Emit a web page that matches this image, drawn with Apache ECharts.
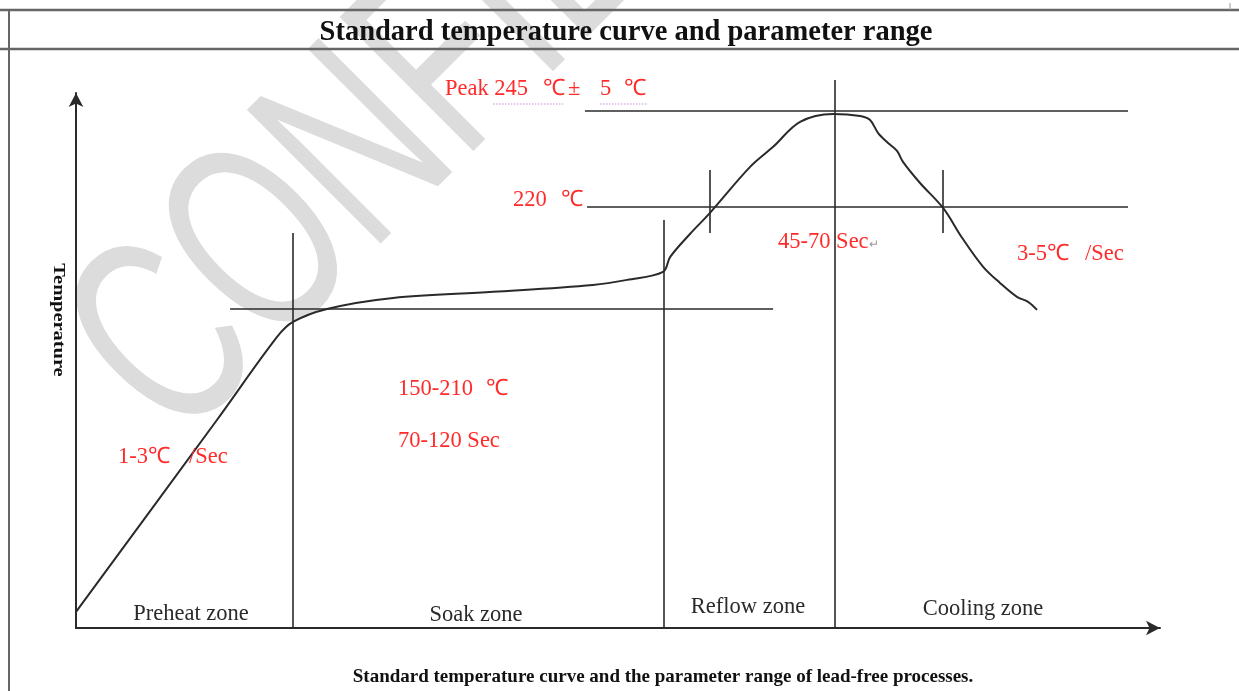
<!DOCTYPE html>
<html>
<head>
<meta charset="utf-8">
<title>Standard temperature curve and parameter range</title>
<script src="https://cdn.jsdelivr.net/npm/echarts@6/dist/echarts.min.js"></script>
<style>
  html, body { margin: 0; padding: 0; background: #fff; }
  #chart { width: 1239px; height: 691px; }
</style>
</head>
<body>
<div id="chart"></div>
<script>
// schematic profile, time (s) vs temperature (arbitrary scale, drawing is not to scale)
const profileTime = [0, 47.1, 67.2, 72.5, 83.9, 106.0, 139.4, 172.8, 184.2, 196.2, 198.6, 205.2, 211.9, 225.3, 233.0, 242.0, 253.0, 262.1, 265.4, 268.1, 271.4, 274.4, 276.4, 282.1, 289.8, 296.2, 303.2, 308.8, 314.5, 318.2, 321.2]
const profileTemp = [7.9, 102.4, 143.3, 150.7, 157.1, 162.5, 165.5, 168.9, 171.4, 175.3, 182.7, 194.0, 204.4, 227.0, 236.9, 249.2, 253.1, 252.1, 250.1, 243.7, 238.8, 234.9, 229.5, 219.1, 206.8, 192.0, 177.8, 169.9, 163.0, 160.6, 156.6]

// guide segments [t1, T1, t2, T2]
const guideLines = [
  [170.1, 254.6, 351.6, 254.6], // peak
  [170.8, 207.3, 351.6, 207.3], // 220
  [51.5, 157.1, 233.0, 157.1], // soak start
  [72.5, 194.5, 72.5, 0], // preheat | soak
  [196.5, 200.9, 196.5, 0], // soak | reflow
  [253.7, 269.8, 253.7, 0], // reflow | cooling
  [211.9, 225.5, 211.9, 194.5], // 220 crossing up
  [289.8, 225.5, 289.8, 194.5] // 220 crossing down
]

const zoneNames = ['Preheat zone', 'Soak zone', 'Reflow zone', 'Cooling zone']
const xMax = 362.3
const yMax = 263.4

const chart = echarts.init(document.getElementById('chart'))
const serif = '"Liberation Serif", "Times New Roman", serif'
const red = '#ff2b2b'
const ink = '#2a2a2a'

function label (text, x, y, size) {
  return {
    type: 'text',
    x: x,
    y: y,
    z: 10,
    style: {
      text: text,
      fill: red,
      font: (size || 22.5) + 'px ' + serif,
      textAlign: 'left',
      textVerticalAlign: 'middle'
    }
  }
}

function zoneLabel (text, cx, y) {
  return {
    type: 'text',
    x: cx,
    y: y,
    z: 10,
    style: { text: text, fill: ink, font: '22.5px ' + serif, textAlign: 'center', textVerticalAlign: 'middle' }
  }
}

function rule (x1, y1, x2, y2, w, color, dash) {
  return {
    type: 'line',
    z: 5,
    shape: { x1: x1, y1: y1, x2: x2, y2: y2 },
    style: { stroke: color || '#666', lineWidth: w || 2, lineDash: dash || null }
  }
}

chart.setOption({
  animation: false,
  grid: { left: 76, right: 79, top: 93, bottom: 63 },
  xAxis: {
    type: 'value',
    min: 0,
    max: xMax,
    axisLine: { show: true, symbol: ['none', 'arrow'], symbolSize: [11, 14], lineStyle: { color: ink, width: 2 } },
    axisTick: { show: false },
    axisLabel: { show: false },
    splitLine: { show: false }
  },
  yAxis: {
    type: 'value',
    min: 0,
    max: yMax,
    axisLine: { show: true, symbol: ['none', 'arrow'], symbolSize: [11, 14], lineStyle: { color: ink, width: 2 } },
    axisTick: { show: false },
    axisLabel: { show: false },
    splitLine: { show: false }
  },
  series: [
    {
      type: 'lines',
      coordinateSystem: 'cartesian2d',
      clip: false,
      silent: true,
      z: 3,
      lineStyle: { color: ink, width: 1.6, opacity: 1 },
      data: guideLines.map(s => ({ coords: [[s[0], s[1]], [s[2], s[3]]] }))
    },
    {
      type: 'line',
      smooth: 0.35,
      showSymbol: false,
      silent: true,
      z: 4,
      lineStyle: { color: ink, width: 2 },
      data: profileTime.map((t, i) => [t, profileTemp[i]])
    }
  ],
  graphic: [
    // watermark, tall narrow letters
    {
      type: 'text',
      x: 124,
      y: 393,
      rotation: Math.PI / 4,
      scaleX: 0.66,
      z: -10,
      style: {
        text: 'CONFIDENTIAL',
        fill: '#dcdcdc',
        font: '275px "Liberation Sans", Arial, sans-serif',
        textAlign: 'left',
        textVerticalAlign: 'middle'
      }
    },
    // table frame
    rule(0, 10, 1239, 10, 2.5),
    rule(0, 49, 1239, 49, 2.5),
    rule(9, 10, 9, 691, 2),
    rule(1230, 3, 1230, 10, 1, '#999'),
    {
      type: 'text',
      x: 626,
      y: 33,
      z: 10,
      style: { text: 'Standard temperature curve and parameter range', fill: '#111', font: 'bold 28.5px ' + serif, textAlign: 'center', textVerticalAlign: 'middle' }
    },
    {
      type: 'text',
      x: 663,
      y: 677,
      z: 10,
      style: { text: 'Standard temperature curve and the parameter range of lead-free processes.', fill: '#111', font: 'bold 19px ' + serif, textAlign: 'center', textVerticalAlign: 'middle' }
    },
    {
      type: 'text',
      x: 58,
      y: 320,
      rotation: -Math.PI / 2,
      scaleX: 1.2,
      z: 10,
      style: { text: 'Temperature', fill: '#111', font: 'bold 17px ' + serif, textAlign: 'center', textVerticalAlign: 'middle' }
    },
    // red annotations
    label('Peak 245', 445, 89),
    label('℃', 543, 89),
    label('±', 568, 89),
    label('5', 600, 89),
    label('℃', 624, 89),
    rule(493, 104, 563, 104, 1.2, '#c58ae0', [1.5, 1.5]),
    rule(600, 104, 647, 104, 1.2, '#c58ae0', [1.5, 1.5]),
    label('220', 513, 200),
    label('℃', 561, 200),
    label('45-70 Sec', 778, 242),
    {
      type: 'text',
      x: 869,
      y: 245,
      z: 10,
      style: { text: '↵', fill: '#999', font: '12px ' + serif, textAlign: 'left', textVerticalAlign: 'middle' }
    },
    label('3-5℃', 1017, 254),
    label('/Sec', 1085, 254),
    label('150-210', 398, 389),
    label('℃', 486, 389),
    label('70-120 Sec', 398, 441),
    label('1-3℃', 118, 457),
    label('/Sec', 189, 457),
    zoneLabel(zoneNames[0], 191, 614),
    zoneLabel(zoneNames[1], 476, 615),
    zoneLabel(zoneNames[2], 748, 607),
    zoneLabel(zoneNames[3], 983, 609)
  ]
})
</script>
</body>
</html>
